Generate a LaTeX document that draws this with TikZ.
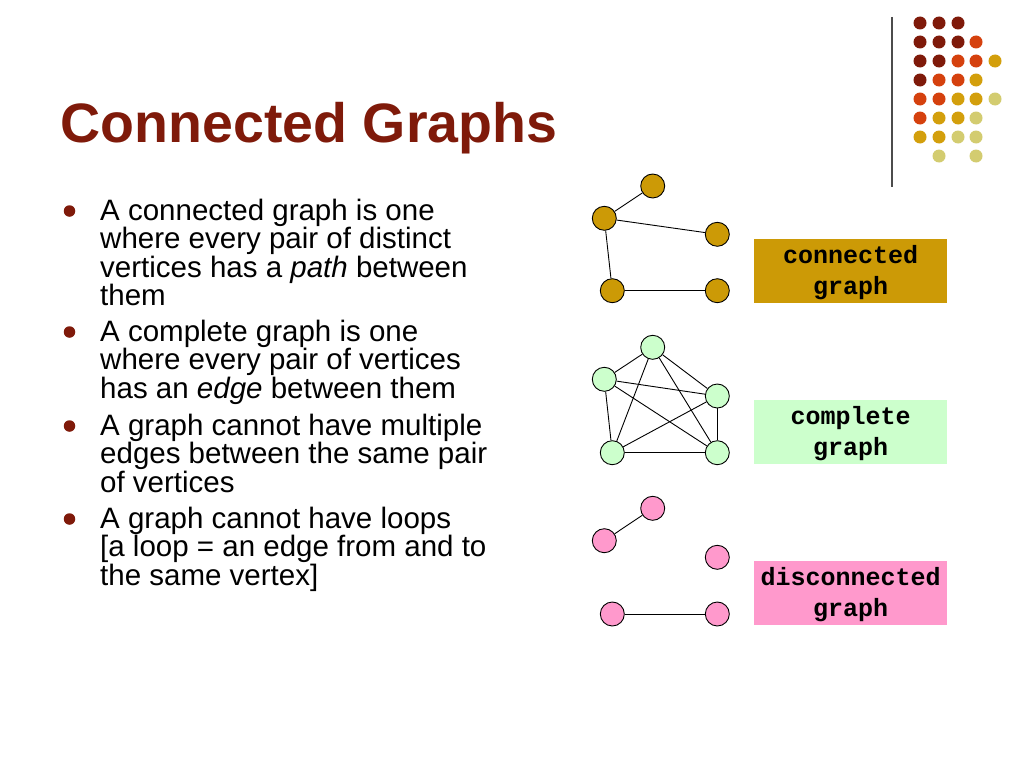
\documentclass[tikz,border=0pt]{standalone}
\usepackage{fontspec}
\setmainfont{Liberation Sans}
\newfontfamily\labelfont{Liberation Mono}
\definecolor{titlered}{HTML}{7F1A0A}
\definecolor{dotdr}{HTML}{7F1A0A}
\definecolor{dotor}{HTML}{D5410E}
\definecolor{dotgo}{HTML}{D39F0C}
\definecolor{dotkh}{HTML}{D3CC70}
\definecolor{goldfill}{HTML}{CC9A06}
\definecolor{greenfill}{HTML}{CCFFCC}
\definecolor{pinkfill}{HTML}{FF99CC}
\tikzset{
  body/.style={anchor=base west, inner sep=0, font=\fontsize{29.5}{30}\selectfont},
  bul/.style={circle, fill=titlered, minimum size=11.5, inner sep=0},
  vert/.style={circle, draw=black, line width=0.9, minimum size=24, inner sep=0},
  edge/.style={draw=black, line width=0.9},
  labelbox/.style={minimum width=193.3, minimum height=63.7, inner sep=0, align=center,
    font=\labelfont\bfseries\fontsize{25}{30.7}\selectfont},
  labeltext/.style={inner sep=0, align=center,
    font=\labelfont\bfseries\fontsize{25}{30.7}\selectfont},
  gdot/.style={circle, minimum size=13, inner sep=0}
}
\begin{document}
\begin{tikzpicture}[x=1pt,y=-1pt]
\useasboundingbox[fill=white] (0,0) rectangle (1024,768);

% title
\node[anchor=base west, inner sep=0, text=titlered, font=\bfseries\fontsize{55.5}{60}\selectfont] (title) at (60.5,142) {Connected Graphs};

% decorative rule and dots
\coordinate (rtop) at (892,17);
\coordinate (rbot) at (892,187);
\draw[line width=1.3, draw=black!70] (rtop) -- (rbot);
\foreach \x/\y/\cl [count=\k] in {
  920/23/dotdr, 939/23/dotdr, 958/23/dotdr,
  920/42/dotdr, 939/42/dotdr, 958/42/dotdr, 976/42/dotor,
  920/61/dotdr, 939/61/dotdr, 958/61/dotor, 976/61/dotor, 995/61/dotgo,
  920/80/dotdr, 939/80/dotor, 958/80/dotor, 976/80/dotgo,
  920/99/dotor, 939/99/dotor, 958/99/dotgo, 976/99/dotgo, 995/99/dotkh,
  920/118/dotor, 939/118/dotgo, 958/118/dotgo, 976/118/dotkh,
  920/137/dotgo, 939/137/dotgo, 958/137/dotkh, 976/137/dotkh,
  939/156/dotkh, 976/156/dotkh} {
  \node[gdot, fill=\cl] (gd\k) at (\x,\y) {};
}

% bullets
\node[bul] (bu1) at (69.5,211) {};
\node[body] (l11) at (100,220) {A connected graph is one};
\node[body] (l12) at (100,248.6) {where every pair of distinct};
\node[body] (l13) at (100,277.2) {vertices has a \textit{path} between};
\node[body] (l14) at (100,305.8) {them};

\node[bul] (bu2) at (69.5,332) {};
\node[body] (l21) at (100,341) {A complete graph is one};
\node[body] (l22) at (100,369.6) {where every pair of vertices};
\node[body] (l23) at (100,398.2) {has an \textit{edge} between them};

\node[bul] (bu3) at (69.5,426) {};
\node[body] (l31) at (100,435) {A graph cannot have multiple};
\node[body] (l32) at (100,463.6) {edges between the same pair};
\node[body] (l33) at (100,492.2) {of vertices};

\node[bul] (bu4) at (69.5,519) {};
\node[body] (l41) at (100,528) {A graph cannot have loops};
\node[body] (l42) at (100,556.6) {[a loop = an edge from and to};
\node[body] (l43) at (100,585.2) {the same vertex]};

% connected graph
\node[vert, fill=goldfill] (a1) at (652.7,186) {};
\node[vert, fill=goldfill] (a2) at (604.3,218.3) {};
\node[vert, fill=goldfill] (a3) at (717.3,234.3) {};
\node[vert, fill=goldfill] (a4) at (612.3,290.7) {};
\node[vert, fill=goldfill] (a5) at (717.3,290.7) {};
\draw[edge] (a1) -- (a2);
\draw[edge] (a2) -- (a3);
\draw[edge] (a2) -- (a4);
\draw[edge] (a4) -- (a5);
\node[labelbox, fill=goldfill] (lab1) at (850.7,270.9) {};
\node[labeltext] (t1) at (850.7,272.5) {connected\\graph};

% complete graph
\node[vert, fill=greenfill] (c1) at (652.7,347.3) {};
\node[vert, fill=greenfill] (c2) at (604.3,379.3) {};
\node[vert, fill=greenfill] (c3) at (717.3,396) {};
\node[vert, fill=greenfill] (c4) at (612.3,452.7) {};
\node[vert, fill=greenfill] (c5) at (717.3,452.7) {};
\draw[edge] (c1) -- (c2);
\draw[edge] (c1) -- (c3);
\draw[edge] (c1) -- (c4);
\draw[edge] (c1) -- (c5);
\draw[edge] (c2) -- (c3);
\draw[edge] (c2) -- (c4);
\draw[edge] (c2) -- (c5);
\draw[edge] (c3) -- (c4);
\draw[edge] (c3) -- (c5);
\draw[edge] (c4) -- (c5);
\node[labelbox, fill=greenfill] (lab2) at (850.7,432) {};
\node[labeltext] (t2) at (850.7,433.5) {complete\\graph};

% disconnected graph
\node[vert, fill=pinkfill] (d1) at (652.7,508.3) {};
\node[vert, fill=pinkfill] (d2) at (604.3,540.7) {};
\node[vert, fill=pinkfill] (d3) at (717.3,557.3) {};
\node[vert, fill=pinkfill] (d4) at (612.3,614) {};
\node[vert, fill=pinkfill] (d5) at (717.3,614) {};
\draw[edge] (d1) -- (d2);
\draw[edge] (d4) -- (d5);
\node[labelbox, fill=pinkfill] (lab3) at (850.7,593) {};
\node[labeltext] (t3) at (850.7,594.5) {disconnected\\graph};
\end{tikzpicture}
\end{document}
